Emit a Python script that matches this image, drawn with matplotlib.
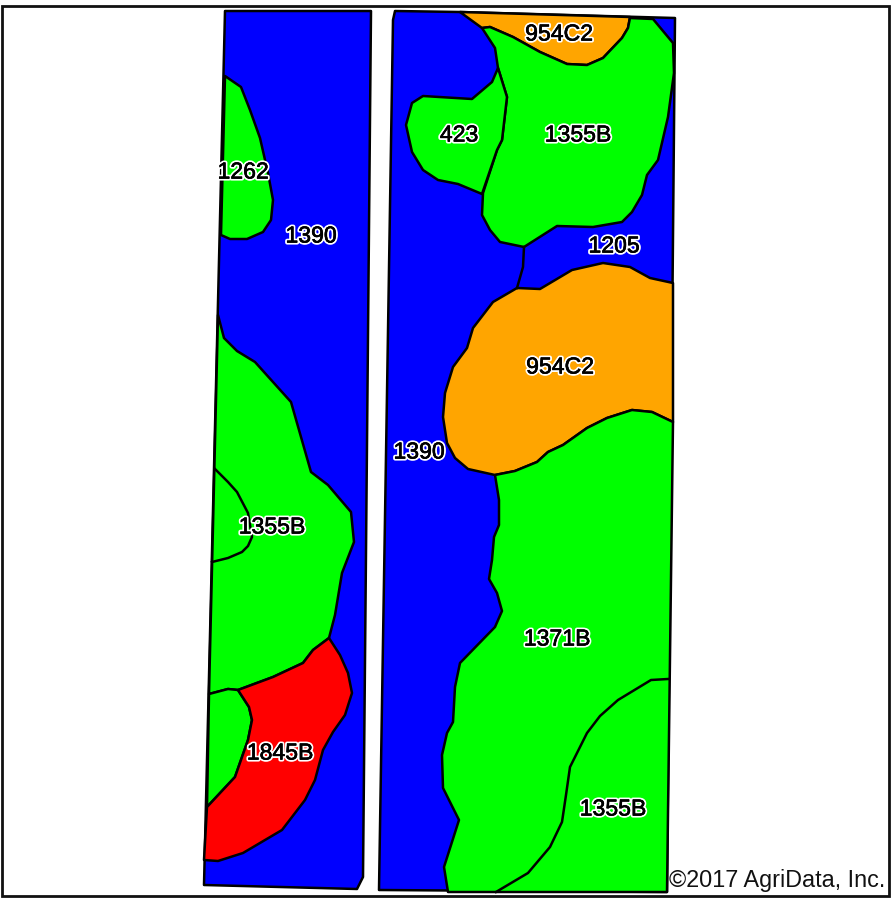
import matplotlib
matplotlib.use("Agg")
import matplotlib.pyplot as plt
import matplotlib.patheffects as pe
from matplotlib.patches import Rectangle

plt.rcParams["font.family"] = ["Liberation Sans", "DejaVu Sans"]

BLUE = "#0000ff"
GREEN = "#00ff00"
ORANGE = "#ffa500"
RED = "#ff0000"

# soil polygons (x, y in image pixels)
left_field = [(225, 11), (371, 11), (363, 877), (357, 889), (204, 885)]
right_field = [(395, 11), (460, 12), (675, 18), (667, 892), (379, 890), (393, 20)]

soil_1262 = [(225, 76), (241, 87), (250, 110), (260, 138), (268, 173), (273, 200), (271, 220),
             (263, 232), (247, 239), (230, 239), (221, 235)]
soil_1355b_left = [(218, 315), (224, 338), (237, 351), (255, 362), (291, 402), (311, 472),
                   (328, 485), (351, 512), (354, 542), (342, 573), (335, 615), (329, 638),
                   (313, 650), (303, 663), (273, 677), (238, 690), (228, 689), (209, 694)]
soil_1355b_small = [(209, 694), (228, 689), (238, 690), (249, 707), (252, 720), (248, 740),
                    (235, 777), (207, 807)]
soil_1845b = [(329, 638), (340, 655), (348, 673), (352, 693), (345, 715), (333, 732),
              (323, 750), (315, 780), (305, 800), (282, 830), (243, 853), (218, 861),
              (204, 860), (207, 807), (235, 777), (248, 740), (252, 720), (249, 707),
              (238, 690), (273, 677), (303, 663), (313, 650)]
inner_line_left = [(215, 469), (228, 482), (237, 492), (248, 513), (252, 537), (248, 546),
                   (242, 552), (228, 558), (212, 562)]

soil_954c2_top = [(460, 12), (630, 17), (628, 28), (622, 38), (603, 58), (587, 65), (567, 64),
                  (540, 52), (513, 37), (490, 27), (482, 28)]
soil_1355b_top = [(482, 28), (490, 27), (513, 37), (540, 52), (567, 64), (587, 65),
                  (603, 58), (622, 38), (628, 28), (630, 18), (653, 19), (673, 43), (674, 73),
                  (668, 117), (658, 160), (647, 175), (642, 195), (632, 212), (622, 222), (593, 227),
                  (557, 226), (524, 247), (500, 242), (490, 230), (482, 215), (483, 193), (497, 150),
                  (502, 140), (507, 97), (498, 68), (495, 48)]
soil_423 = [(498, 68), (492, 82), (472, 99), (423, 96), (412, 103), (406, 125), (412, 152),
            (423, 170), (438, 180), (458, 184), (482, 194), (497, 150), (502, 140),
            (507, 97)]
soil_954c2_mid = [(673, 283), (650, 278), (630, 267), (603, 263), (572, 270), (540, 289),
                  (517, 288), (493, 302), (473, 328), (467, 348), (453, 367), (445, 393),
                  (443, 417), (447, 443), (455, 458), (468, 469), (495, 475), (515, 471),
                  (537, 462), (548, 452), (563, 445), (587, 428), (607, 418), (632, 410),
                  (652, 412), (673, 422)]
soil_1371b = [(495, 475), (515, 471), (537, 462), (548, 452), (563, 445), (587, 428),
              (607, 418), (632, 410), (652, 412), (673, 422), (667, 892), (448, 892),
              (444, 867), (459, 820), (443, 788), (442, 755), (447, 733), (453, 722),
              (455, 687), (460, 663), (495, 627), (502, 611), (497, 593), (489, 579),
              (492, 560), (494, 537), (499, 525), (499, 500)]
divider_1205 = [(524, 247), (523, 267), (517, 288)]
inner_line_right = [(668, 679), (651, 680), (618, 700), (600, 716), (587, 733), (570, 767),
                    (566, 795), (562, 822), (550, 847), (528, 873), (496, 892)]

polygons = [
    (left_field, BLUE), (right_field, BLUE),
    (soil_1262, GREEN), (soil_1355b_left, GREEN), (soil_1355b_small, GREEN), (soil_1845b, RED),
    (soil_954c2_top, ORANGE), (soil_1355b_top, GREEN), (soil_423, GREEN),
    (soil_954c2_mid, ORANGE), (soil_1371b, GREEN),
]
lines = [inner_line_left, divider_1205, inner_line_right]

label_text = ["1262", "1390", "423", "1355B", "954C2", "1205", "954C2", "1390",
              "1355B", "1371B", "1845B", "1355B"]
label_x = [243, 311, 459, 578, 559, 614, 560, 419, 272, 557, 280, 613]
label_y = [172, 236, 135, 135, 34, 246, 367, 452, 527, 639, 753, 809]

fig = plt.figure(figsize=(8.91, 9.0), dpi=100)
ax = fig.add_axes([0, 0, 1, 1])
ax.set_xlim(0, 891)
ax.set_ylim(900, 0)
ax.axis("off")

for poly, col in polygons:
    xs, ys = zip(*poly)
    ax.fill(xs, ys, facecolor=col, edgecolor="black", lw=1.8, joinstyle="round")
for line in lines:
    xs, ys = zip(*line)
    ax.plot(xs, ys, color="black", lw=1.8, solid_joinstyle="round")

halo = [pe.withStroke(linewidth=3.0, foreground="white"),
        pe.withStroke(linewidth=0.4, foreground="black")]
for s, x, y in zip(label_text, label_x, label_y):
    ax.text(x, y, s, fontsize=16.6, color="black", ha="center", va="center", path_effects=halo)

ax.add_patch(Rectangle((2, 6), 887, 890, fill=False, edgecolor="#111111", lw=2.0, zorder=5))
ax.text(885, 881, "\u00a92017 AgriData, Inc.", fontsize=16.8, color="#111111", ha="right", va="center")

fig.savefig("out.png", dpi=100, facecolor="white")
